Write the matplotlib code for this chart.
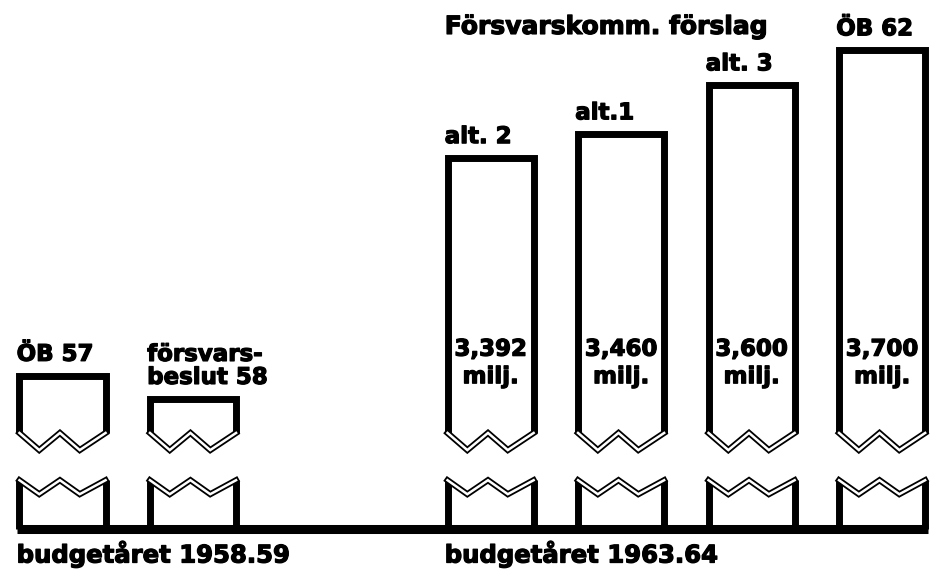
import matplotlib.pyplot as plt
import matplotlib.patheffects as pe
import numpy as np

labels = ["ÖB 57", "försvars-\nbeslut 58", "alt. 2", "alt.1", "alt. 3", "ÖB 62"]
values = [2770, 2704, 3392, 3460, 3600, 3700]
printed = [False, False, True, True, True, True]
positions = [0, 1, 3.28, 4.28, 5.28, 6.28]
year_labels = ["budgetåret 1958.59", "budgetåret 1963.64"]
year_first_bar = [0, 2]
header = "Försvarskomm. förslag"

plt.rcParams['font.family'] = ['DejaVu Sans']
plt.rcParams['font.weight'] = 'bold'
heavy = [pe.withStroke(linewidth=0.9, foreground='black')]

floor = 2331          # baseline of the truncated axis
up_hi, up_lo = 2606, 2557   # zigzag ending the upper piece
lo_hi, lo_lo = 2471, 2431   # zigzag starting the lower stub
w = 0.66
zig = np.array([0, 0.23, 0.47, 0.70, 1.0])
lw = 5

fig = plt.figure(figsize=(9.36, 5.70), dpi=100)
ax = fig.add_axes([0, 0, 1, 1])
ax.set_xlim(-0.479, 6.693)
ax.set_ylim(2214.4, 3843)
ax.axis('off')

for x, v, lab, show in zip(positions, values, labels, printed):
    l, r = x - w / 2, x + w / 2
    # upper piece
    ax.plot([l, l, r, r], [up_hi, v, v, up_hi], color='black', lw=lw,
            solid_joinstyle='miter', solid_capstyle='butt')
    # lower stub
    ax.plot([l, l], [floor, lo_hi], color='black', lw=lw, solid_capstyle='butt')
    ax.plot([r, r], [floor, lo_hi], color='black', lw=lw, solid_capstyle='butt')
    # double-line break marks
    zx = l + zig * (r - l)
    for hi, lo in [(up_hi, up_lo), (lo_hi, lo_lo)]:
        zy = [hi, lo, hi, lo, hi]
        ax.plot(zx, zy, color='black', lw=4.4, solid_joinstyle='miter')
        ax.plot(zx, zy, color='white', lw=1.8, solid_joinstyle='miter')
    ax.annotate(lab, (l, v), xytext=(-2, 7), textcoords='offset points',
                ha='left', va='bottom', fontsize=16.5, linespacing=1.0,
                path_effects=heavy)
    if show:
        txt = f"{v / 1000:.3f}".replace('.', ',') + "\nmilj."
        ax.text(x, 2806, txt, ha='center', va='center', fontsize=16.5,
                linespacing=1.25, path_effects=heavy)

# baseline
ax.plot([positions[0] - w / 2 - 0.02, positions[-1] + w / 2 + 0.02], [floor, floor],
        color='black', lw=6.5, solid_capstyle='butt')

for lab, i in zip(year_labels, year_first_bar):
    ax.annotate(lab, (positions[i] - w / 2, floor), xytext=(-2, -24),
                textcoords='offset points', ha='left', va='baseline', fontsize=17.5,
                path_effects=heavy)

ax.annotate(header, (positions[2] - w / 2, values[-1]), xytext=(-2, 8),
            textcoords='offset points', ha='left', va='bottom', fontsize=18,
            path_effects=heavy)

fig.savefig("out.png", dpi=100)
plt.close(fig)
